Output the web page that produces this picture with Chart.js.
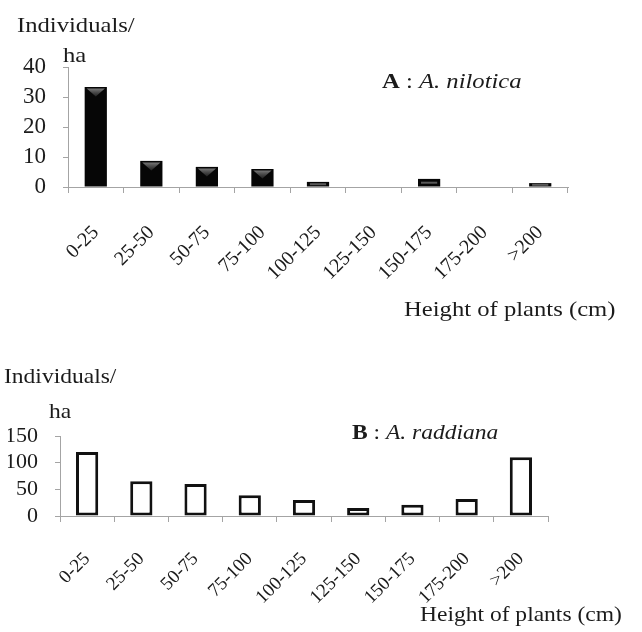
<!DOCTYPE html>
<html>
<head>
<meta charset="utf-8">
<script src="https://cdn.jsdelivr.net/npm/chart.js@4.4.1/dist/chart.umd.min.js"></script>
<style>
  html, body { margin: 0; padding: 0; background: #fff; }
  #wrap { position: relative; width: 642px; height: 632px; overflow: hidden; background: #fff; }
  .panel { position: absolute; left: 0; width: 642px; }
  #panelA { top: 0; height: 340px; }
  #panelB { top: 340px; height: 292px; }
</style>
</head>
<body>
<div id="wrap">
  <div class="panel" id="panelA"><canvas id="chartA" width="642" height="340"></canvas></div>
  <div class="panel" id="panelB"><canvas id="chartB" width="642" height="292"></canvas></div>
</div>
<script>
// Height classes of the plants (cm)
const heightClasses = ['0-25', '25-50', '50-75', '75-100', '100-125', '125-150', '150-175', '175-200', '>200'];

// Density (individuals / ha) per height class
const niloticaDensity = [33.3, 8.7, 6.7, 6.0, 1.7, 0, 2.7, 0, 1.3];
const raddianaDensity = [120, 65, 60, 39, 30, 15, 21, 32, 110];

// Y-axis tick values
const niloticaTicks = [0, 10, 20, 30, 40];
const raddianaTicks = [0, 50, 100, 150];

const SERIF = '"Liberation Serif", "Times New Roman", serif';
const AXIS_GREY = '#a4a4a4';
const INK = '#1b1b1b';
const TEXT_STRETCH = 1.12;

// Draws free text runs (axis captions, panel titles); a run may mix fonts.
const panelTextPlugin = {
  id: 'panelText',
  afterDraw(chart, args, opts) {
    const ctx = chart.ctx;
    (opts.lines || []).forEach(line => {
      ctx.save();
      ctx.translate(line.x, line.y);
      ctx.scale(TEXT_STRETCH, 1);
      ctx.fillStyle = INK;
      ctx.textBaseline = 'alphabetic';
      ctx.textAlign = 'left';
      let x = 0;
      line.parts.forEach(p => {
        ctx.font = p.font;
        ctx.fillText(p.text, x, 0);
        x += ctx.measureText(p.text).width;
      });
      ctx.restore();
    });
  }
};

// Soft grey bevel on the top of the filled bars
const bevelPlugin = {
  id: 'bevel',
  afterDatasetsDraw(chart, args, opts) {
    if (!opts.enabled) return;
    const ctx = chart.ctx;
    const meta = chart.getDatasetMeta(0);
    ctx.save();
    meta.data.forEach(bar => {
      const p = bar.getProps(['x', 'y', 'base', 'width'], true);
      const h = p.base - p.y;
      if (h < 2) return;
      const half = p.width / 2;
      if (h < 8) {
        ctx.fillStyle = 'rgba(110,110,110,0.8)';
        ctx.fillRect(p.x - half + 3, p.y + h / 2 - 1, p.width - 6, 2);
        return;
      }
      const th = Math.min(8, h * 0.45);
      const g = ctx.createLinearGradient(0, p.y + 1, 0, p.y + 1 + th);
      g.addColorStop(0, 'rgba(135,135,135,0.95)');
      g.addColorStop(1, 'rgba(60,60,60,0.6)');
      ctx.fillStyle = g;
      ctx.beginPath();
      ctx.moveTo(p.x - half + 2, p.y + 1.5);
      ctx.lineTo(p.x + half - 2, p.y + 1.5);
      ctx.lineTo(p.x, p.y + 1.5 + th);
      ctx.closePath();
      ctx.fill();
    });
    ctx.restore();
  }
};

function buildChart(canvasId, cfg) {
  return new Chart(document.getElementById(canvasId), {
    type: 'bar',
    data: {
      labels: heightClasses,
      datasets: [{
        data: cfg.values,
        backgroundColor: cfg.fill,
        borderColor: cfg.stroke,
        borderWidth: cfg.strokeWidth,
        borderSkipped: false,
        barPercentage: cfg.barPct,
        categoryPercentage: 1
      }]
    },
    options: {
      responsive: false,
      animation: false,
      devicePixelRatio: 1,
      layout: { padding: cfg.padding },
      plugins: {
        legend: { display: false },
        tooltip: { enabled: false },
        title: { display: false },
        panelText: { lines: cfg.lines },
        bevel: { enabled: cfg.bevel }
      },
      scales: {
        x: {
          offset: true,
          grid: { display: true, offset: true, drawOnChartArea: false, drawTicks: true, tickLength: 6, color: AXIS_GREY, lineWidth: 1 },
          border: { display: true, color: AXIS_GREY, width: 1 },
          ticks: {
            autoSkip: false, minRotation: 45, maxRotation: 45, padding: cfg.xPad,
            color: INK, font: { family: SERIF, size: cfg.xFont }
          },
          afterFit: s => { s.height = cfg.xHeight; }
        },
        y: {
          min: 0,
          max: cfg.ticks[cfg.ticks.length - 1],
          afterBuildTicks: s => { s.ticks = cfg.ticks.map(v => ({ value: v })); },
          grid: { display: true, drawOnChartArea: false, drawTicks: true, tickLength: 5, color: AXIS_GREY, lineWidth: 1 },
          border: { display: true, color: AXIS_GREY, width: 1 },
          ticks: { autoSkip: false, padding: cfg.yPad, color: INK, font: { family: SERIF, size: cfg.yFont } },
          afterFit: s => { s.width = cfg.yWidth; }
        }
      }
    },
    plugins: [panelTextPlugin, bevelPlugin]
  });
}

const fontReg = sz => `${sz}px ${SERIF}`;
const fontBold = sz => `bold ${sz}px ${SERIF}`;
const fontIt = sz => `italic ${sz}px ${SERIF}`;

buildChart('chartA', {
  values: niloticaDensity,
  ticks: niloticaTicks,
  fill: '#060606',
  stroke: '#060606',
  strokeWidth: 0,
  barPct: 0.4,
  bevel: true,
  padding: { left: 10, right: 74, top: 67, bottom: 0 },
  yWidth: 58,
  xHeight: 153,
  xPad: 28,
  xFont: 20,
  yFont: 23,
  yPad: 17,
  lines: [
    { x: 17, y: 32, parts: [{ text: 'Individuals/', font: fontReg(22) }] },
    { x: 63, y: 62, parts: [{ text: 'ha', font: fontReg(22) }] },
    { x: 382, y: 88, parts: [
      { text: 'A', font: fontBold(22) },
      { text: ' : ', font: fontReg(22) },
      { text: 'A. nilotica', font: fontIt(22) }
    ] },
    { x: 404, y: 316, parts: [{ text: 'Height of plants (cm)', font: fontReg(22) }] }
  ]
});

buildChart('chartB', {
  values: raddianaDensity,
  ticks: raddianaTicks,
  fill: '#ffffff',
  stroke: '#111111',
  strokeWidth: 3,
  barPct: 0.41,
  bevel: false,
  padding: { left: 8, right: 94, top: 96, bottom: 0 },
  yWidth: 52,
  xHeight: 116,
  xPad: 26,
  xFont: 19,
  yFont: 22,
  yPad: 17,
  lines: [
    { x: 4, y: 43, parts: [{ text: 'Individuals/', font: fontReg(21) }] },
    { x: 49, y: 78, parts: [{ text: 'ha', font: fontReg(21) }] },
    { x: 352, y: 99, parts: [
      { text: 'B', font: fontBold(21) },
      { text: ' : ', font: fontReg(21) },
      { text: 'A. raddiana', font: fontIt(21) }
    ] },
    { x: 420, y: 281, parts: [{ text: 'Height of plants (cm)', font: fontReg(21) }] }
  ]
});
</script>
</body>
</html>
